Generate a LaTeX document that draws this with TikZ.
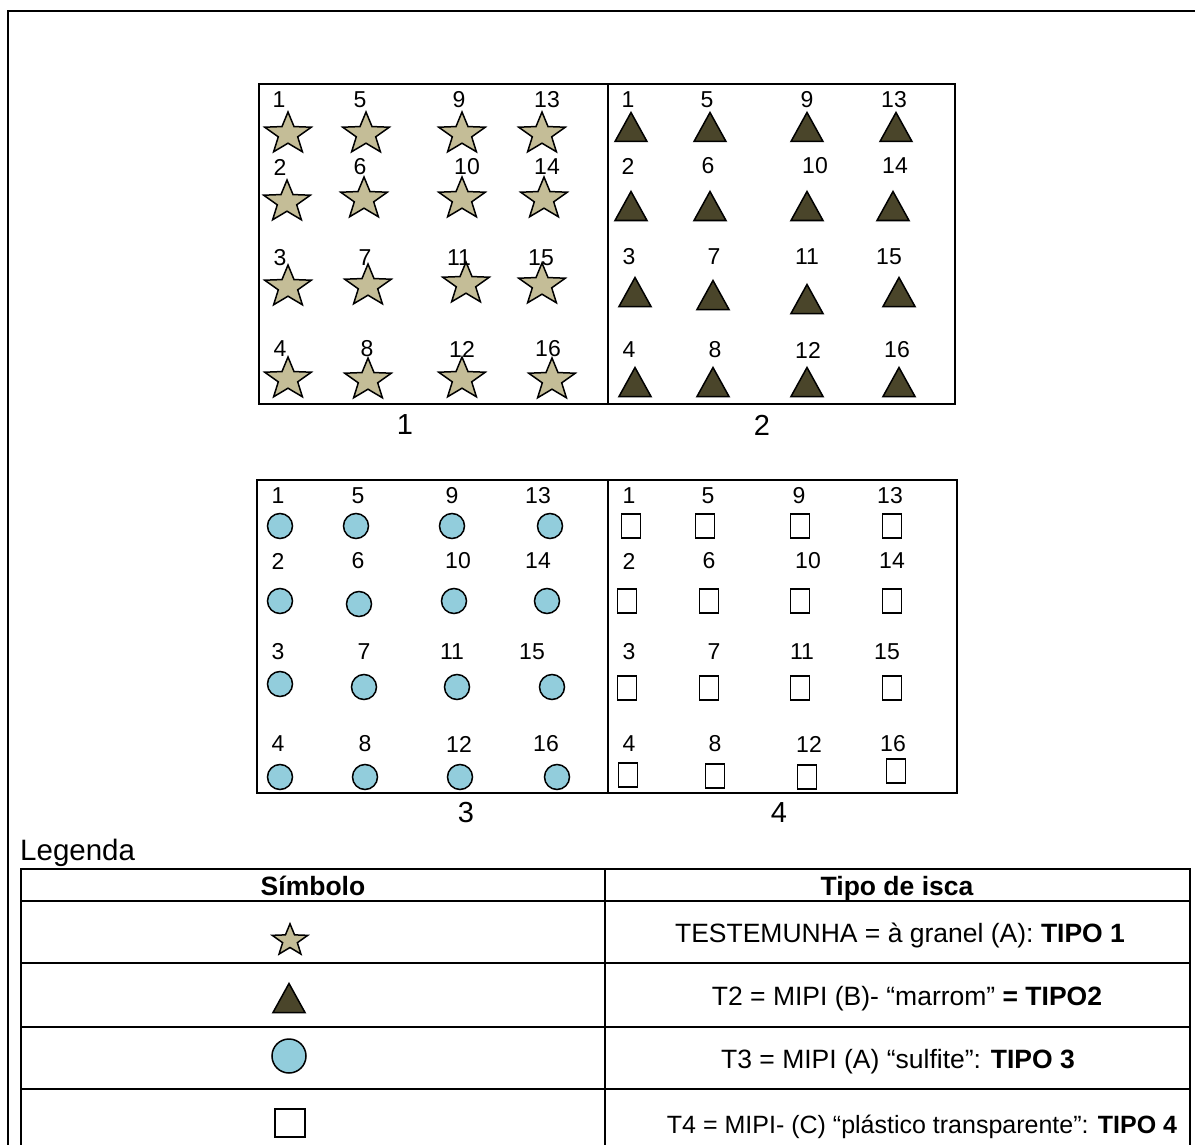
\documentclass[tikz,border=0pt]{standalone}
\usepackage{fontspec}
\setmainfont{Liberation Sans}
\definecolor{tanC}{HTML}{C4BD97}
\definecolor{oliveC}{HTML}{4A452A}
\definecolor{aquaC}{HTML}{92CDDC}
\begin{document}
\begin{tikzpicture}[x=1pt,y=-1pt,
  frame/.style={line width=2pt},
  lab/.style={font=\fontsize{23}{26}\selectfont, inner sep=0},
  biglab/.style={font=\fontsize{29}{32}\selectfont, inner sep=0},
  rowtxt/.style={font=\fontsize{26.5}{30}\selectfont, inner sep=0, anchor=base},
  headtxt/.style={font=\bfseries\fontsize{26.5}{30}\selectfont, inner sep=0, anchor=base},
  circsym/.style={circle, draw, line width=1.5pt, fill=aquaC, minimum size=25pt, inner sep=0},
  sqsym/.style={rectangle, draw, line width=1.3pt, fill=white, minimum width=19pt, minimum height=24pt, inner sep=0},
  starp/.pic={\draw[line width=1.5pt, fill=tanC, line join=miter, shift={(0,2)}]
     (-90:24.5 and 22) -- (-54:10.2 and 9.2) -- (-18:24.5 and 22) -- (18:10.2 and 9.2)
     -- (54:24.5 and 22) -- (90:10.2 and 9.2) -- (126:24.5 and 22) -- (162:10.2 and 9.2)
     -- (198:24.5 and 22) -- (234:10.2 and 9.2) -- cycle;},
  trip/.pic={\draw[line width=1.5pt, fill=oliveC, line join=miter]
     (-16,14.5) -- (16,14.5) -- (0,-14.5) -- cycle;}
]
\useasboundingbox (0,0) rectangle (1195,1145);
% outer frame
\draw[frame] (8,1146) -- (8,11) -- (1196,11);
% grids
\draw[frame] (259,84) rectangle (955,404);
\draw[frame] (608,84) -- (608,404);
\draw[frame] (257,480) rectangle (957,793);
\draw[frame] (608,480) -- (608,793);
% grid 1 stars
\foreach \x/\y in {288/132,366/132,462/132,542/132,
                   287/200,364/197,462/197,544/197,
                   288/285,368/284,466/282,542/283,
                   288/377,368/378,462/377,552/378}
  \pic at (\x,\y) {starp};
\foreach \t/\x/\y in {1/279/100,5/360/100,9/459/100,13/547/100,
                      2/280/167,6/360/167,10/467/167,14/547/167,
                      3/280/258,7/365/258,11/459/258,15/541/258,
                      4/280/349,8/367/349,12/462/349,16/548/349}
  \node[lab] (a\t) at (\x,\y) {\t};
% grid 2 triangles
\foreach \x/\y in {631/127,710/127,807/127,896/127,
                   631/206,710/206,807/206,893/206,
                   635/292,713/295,807/299,899/292,
                   635/382,713/382,807/382,899/382}
  \pic at (\x,\y) {trip};
\foreach \t/\x/\y in {1/628/100,5/707/100,9/807/100,13/894/100,
                      2/628/166,6/708/166,10/815/166,14/895/166,
                      3/629/257,7/714/257,11/807/257,15/889/257,
                      4/629/350,8/715/350,12/808/350,16/897/350}
  \node[lab] (b\t) at (\x,\y) {\t};
% grid 3 circles
\foreach \t/\x/\y in {1/280/526,5/356/526,9/452/526,13/550/526,
                      2/280/601,6/359/604,10/454/601,14/547/601,
                      3/280/684,7/364/687,11/457/687,15/552/687,
                      4/280/777,8/365/777,12/460/777,16/557/777}
  \node[circsym] (cs\t) at (\x,\y) {};
\foreach \t/\x/\y in {1/278/496,5/358/496,9/452/496,13/538/496,
                      2/278/561,6/358/561,10/458/561,14/538/561,
                      3/278/652,7/364/652,11/452/652,15/532/652,
                      4/278/744,8/365/744,12/459/744,16/546/744}
  \node[lab] (c\t) at (\x,\y) {\t};
% grid 4 squares
\foreach \t/\x/\y in {1/631/526,5/705/526,9/800/526,13/892/526,
                      2/627/601,6/709/601,10/800/601,14/892/601,
                      3/627/688,7/709/688,11/800/688,15/892/688,
                      4/628/775,8/715/776,12/807/777,16/896/771}
  \node[sqsym] (ds\t) at (\x,\y) {};
\foreach \t/\x/\y in {1/629/496,5/708/496,9/799/496,13/890/496,
                      2/629/561,6/709/561,10/808/561,14/892/561,
                      3/629/652,7/714/652,11/802/652,15/887/652,
                      4/629/744,8/715/744,12/809/744,16/893/744}
  \node[lab] (d\t) at (\x,\y) {\t};
% grid numbers
\node[biglab] (n1) at (405,425) {1};
\node[biglab] (n2) at (762,425) {2};
\node[biglab] (n3) at (466,813) {3};
\node[biglab] (n4) at (779,813) {4};
% legend
\node[anchor=base west, font=\fontsize{29.5}{33}\selectfont, inner sep=0] (leg) at (20,860) {Legenda};
\draw[frame] (21,1146) -- (21,869) -- (1190,869) -- (1190,1146);
\draw[frame] (605,869) -- (605,1146);
\foreach \yy in {901,963,1027,1089} \draw[frame] (21,\yy) -- (1190,\yy);
\node[headtxt] (h1) at (313,895) {Símbolo};
\node[headtxt] (h2) at (897,895) {Tipo de isca};
\pic[scale=0.76] at (290,939) {starp};
\pic at (289,998) {trip};
\node[circsym, minimum size=34pt] (lc) at (289,1056) {};
\node[sqsym, minimum width=30pt, minimum height=28pt] (ls) at (290,1123) {};
\node[rowtxt] (r1) at (900,942) {TESTEMUNHA = à granel (A): \textbf{TIPO 1}};
\node[rowtxt] (r2) at (907,1005) {T2 = MIPI (B)- “marrom” \textbf{= TIPO2}};
\node[rowtxt] (r3) at (898,1068) {T3 = MIPI (A) “sulfite”: \textbf{TIPO 3}};
\node[rowtxt, font=\fontsize{25}{28}\selectfont] (r4) at (922,1133) {T4 = MIPI- (C) “plástico transparente”: \textbf{TIPO 4}};
\end{tikzpicture}
\end{document}
